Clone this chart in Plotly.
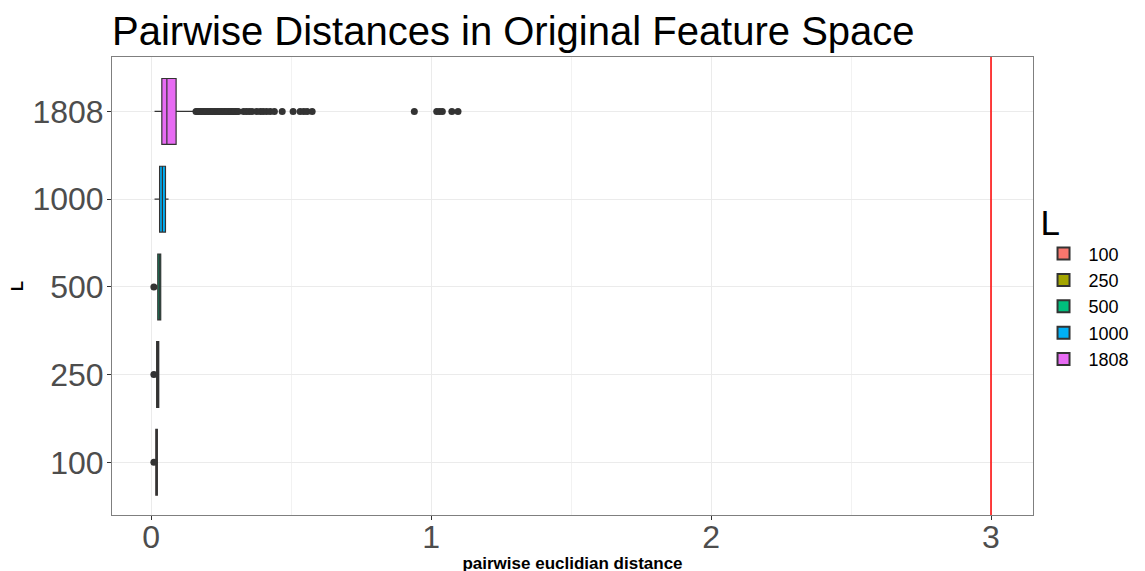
import plotly.graph_objects as go

# ---- data ----
categories = ["100", "250", "500", "1000", "1808"]
colors = ["#F8766D", "#A3A500", "#00BF7D", "#00B0F6", "#E76BF3"]
lowerfence = [0.016, 0.019, 0.023, 0.012, 0.012]
q1 = [0.0165, 0.0195, 0.0235, 0.030, 0.038]
median = [0.0195, 0.024, 0.029, 0.040, 0.056]
q3 = [0.022, 0.027, 0.034, 0.051, 0.089]
upperfence = [0.023, 0.028, 0.035, 0.062, 0.154]

outliers_100 = [0.0096]
outliers_250 = [0.0096]
outliers_500 = [0.0096]
outliers_1000 = []
outliers_1808 = [0.160, 0.165, 0.170, 0.175, 0.180, 0.185, 0.190, 0.195, 0.200, 0.205,
                 0.210, 0.215, 0.220, 0.225, 0.230, 0.235, 0.240, 0.245, 0.250, 0.255,
                 0.260, 0.265, 0.270, 0.275, 0.280, 0.285, 0.290, 0.295, 0.300, 0.305,
                 0.311, 0.330, 0.340, 0.350, 0.360, 0.377, 0.390, 0.400, 0.412, 0.425,
                 0.440, 0.468, 0.507, 0.532, 0.545, 0.557, 0.575, 0.940, 1.020, 1.030,
                 1.040, 1.074, 1.096]
outliers = [outliers_100, outliers_250, outliers_500, outliers_1000, outliers_1808]

threshold = 3

title_text = "Pairwise Distances in Original Feature Space"
x_title = "pairwise euclidian distance"
y_title = "L"
x_ticks = [0, 1, 2, 3]

FONT = "Liberation Sans, Arial, Helvetica, sans-serif"

fig = go.Figure()
for i, cat in enumerate(categories):
    fig.add_trace(go.Box(
        y=[cat], q1=[q1[i]], median=[median[i]], q3=[q3[i]],
        lowerfence=[lowerfence[i]], upperfence=[upperfence[i]],
        orientation="h", name=cat, legendgroup=cat,
        fillcolor=colors[i], line=dict(color="#333333", width=1.2),
        whiskerwidth=0, width=0.75, boxpoints=False, showlegend=True,
    ))
    if outliers[i]:
        fig.add_trace(go.Scatter(
            x=outliers[i], y=[cat] * len(outliers[i]), mode="markers",
            marker=dict(color="#333333", size=7), showlegend=False,
            legendgroup=cat, hoverinfo="x",
        ))

fig.add_vline(x=threshold, line=dict(color="#FF0000", width=1.5))

fig.update_layout(
    width=1145, height=571,
    margin=dict(l=104, r=120, t=49, b=64, autoexpand=False),
    paper_bgcolor="white", plot_bgcolor="white",
    font=dict(family=FONT, color="#000000"),
    title=dict(text=title_text, x=0, xref="paper", xanchor="left",
               y=1 - 22.5 / 571, yref="container", yanchor="middle",
               font=dict(size=40, color="#000000")),
    showlegend=True,
    legend=dict(title=dict(text=y_title, font=dict(size=35)),
                font=dict(size=18), x=1.006, xref="paper", xanchor="left",
                y=0.71, yanchor="top", traceorder="normal",
                tracegroupgap=0, itemsizing="constant", itemwidth=40),
    xaxis=dict(range=[-0.14, 3.15], tickvals=x_ticks, ticktext=[str(t) for t in x_ticks],
               tickfont=dict(size=32, color="#4D4D4D"), automargin=False,
               ticklabelstandoff=-10,
               showgrid=True, gridcolor="#EBEBEB", gridwidth=1,
               minor=dict(dtick=0.5, showgrid=True, gridcolor="#F2F2F2", gridwidth=0.6),
               zeroline=False, showline=True, mirror=True, linecolor="#7F7F7F", linewidth=1,
               ticks="outside", ticklen=4, tickcolor="#333333",
               title=dict(text="<b>" + x_title + "</b>", font=dict(size=17), standoff=2)),
    yaxis=dict(type="category", categoryorder="array", categoryarray=categories,
               range=[-0.6, 4.62], automargin=False,
               ticklabelstandoff=-3,
               tickfont=dict(size=32, color="#4D4D4D"),
               showgrid=True, gridcolor="#EBEBEB", gridwidth=1,
               zeroline=False, showline=True, mirror=True, linecolor="#7F7F7F", linewidth=1,
               ticks="outside", ticklen=4, tickcolor="#333333",
               title=dict(text="<b>" + y_title + "</b>", font=dict(size=17), standoff=14)),
)

fig.write_html("out.html")
